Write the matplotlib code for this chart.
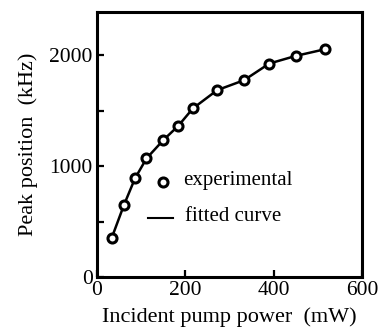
import matplotlib.pyplot as plt

# data
power = [33, 61, 86, 112, 150, 184, 217, 272, 333, 390, 450, 516]
peak = [349, 649, 889, 1069, 1234, 1363, 1520, 1685, 1775, 1925, 1994, 2054]

plt.rcParams['font.family'] = ['Liberation Serif', 'DejaVu Serif']

fig = plt.figure(figsize=(3.87, 3.29), dpi=100)
ax = fig.add_axes([97 / 387, 1 - 277 / 329, 265 / 387, 265 / 329])

ax.plot(power, peak, color='black', lw=1.8)
ax.plot(power, peak, 'o', ms=6.5, mfc='white', mec='black', mew=2.2)

# legend drawn by hand
ax.plot([150], [856], 'o', ms=6.5, mfc='white', mec='black', mew=2.2)
ax.text(195, 870, 'experimental', fontsize=15, va='center', ha='left')
ax.plot([115, 172], [535, 535], color='black', lw=1.5)
ax.text(199, 545, 'fitted curve', fontsize=15, va='center', ha='left')

ax.set_xlim(0, 600)
ax.set_ylim(0, 2390)
ax.set_xticks([0, 200, 400, 600])
ax.set_yticks([0, 500, 1000, 1500, 2000])
ax.set_yticklabels(['0', '', '1000', '', '2000'])
ax.tick_params(direction='in', length=5, width=1.6, labelsize=15.5, pad=3)
for s in ax.spines.values():
    s.set_linewidth(2.2)

ax.set_xlabel('Incident pump power  (mW)', fontsize=16, labelpad=5)
ax.set_ylabel('Peak position  (kHz)', fontsize=16, labelpad=8)

fig.savefig('out.png', dpi=100)
